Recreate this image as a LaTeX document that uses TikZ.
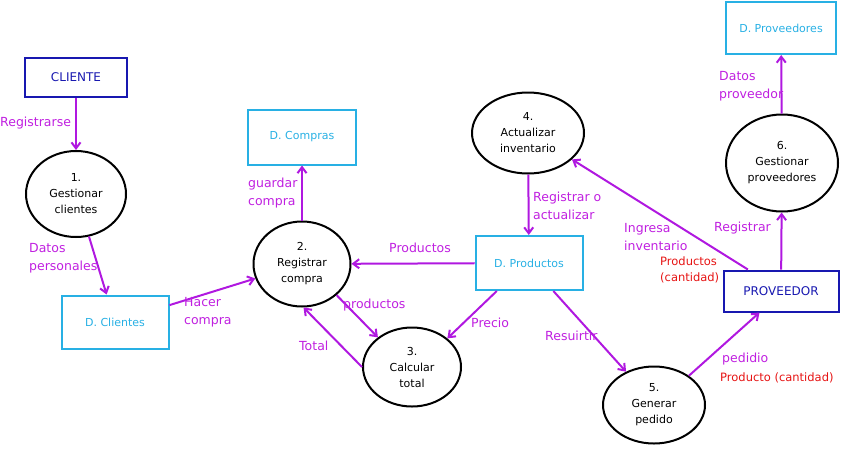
\documentclass[tikz,border=0pt]{standalone}
\usepackage{fontspec}
\setmainfont{DejaVu Sans}
\usetikzlibrary{shapes.geometric,arrows.meta}
\definecolor{colflujo}{RGB}{176,24,224}
\definecolor{coletiq}{RGB}{192,32,224}
\definecolor{colalmacen}{RGB}{40,176,228}
\definecolor{colentidad}{RGB}{24,24,176}
\definecolor{colrojo}{RGB}{230,20,20}
\tikzset{
  proceso/.style={ellipse,draw=black,line width=2pt,inner sep=0pt,align=center,
    font=\fontsize{11}{16}\selectfont},
  dstore/.style={rectangle,draw=colalmacen,line width=2pt,text=colalmacen,
    font=\fontsize{11}{14}\selectfont},
  entidad/.style={rectangle,draw=colentidad,line width=2pt,text=colentidad,
    font=\fontsize{12}{14}\selectfont},
  flujo/.style={draw=colflujo,line width=2pt,-{Straight Barb[length=6pt,width=9pt]}},
  etiqueta/.style={anchor=west,inner sep=0pt,align=left,text=coletiq,
    font=\fontsize{12.5}{18}\selectfont},
  cantidad/.style={anchor=west,inner sep=0pt,align=left,text=colrojo,
    font=\fontsize{11.5}{16}\selectfont}
}
\begin{document}
\begin{tikzpicture}[x=1pt,y=-1pt]
    \useasboundingbox (0,0) rectangle (842,448);

    \node[entidad,minimum width=102pt,minimum height=39pt] (cliente) at (76,77.5) {CLIENTE};
    \node[entidad,minimum width=115pt,minimum height=41pt] (prov) at (781,291) {PROVEEDOR};

    \node[dstore,minimum width=107pt,minimum height=53pt] (dclientes) at (115,322) {D. Clientes};
    \node[dstore,minimum width=108pt,minimum height=55pt] (dcompras) at (302,137) {D. Compras};
    \node[dstore,minimum width=107pt,minimum height=54pt] (dprod) at (529,263) {D. Productos};
    \node[dstore,minimum width=110pt,minimum height=52pt] (dprov) at (781,28) {D. Proveedores};

    \node[proceso,minimum width=100pt,minimum height=86pt] (p1) at (76,194) {1.\\Gestionar\\clientes};
    \node[proceso,minimum width=97pt,minimum height=85pt] (p2) at (302,264) {2.\\Registrar\\compra};
    \node[proceso,minimum width=98pt,minimum height=79pt] (p3) at (412,367) {3.\\Calcular\\total};
    \node[proceso,minimum width=112pt,minimum height=81pt] (p4) at (528,133) {4.\\Actualizar\\inventario};
    \node[proceso,minimum width=102pt,minimum height=77pt] (p5) at (654,405) {5.\\Generar\\pedido};
    \node[proceso,minimum width=112pt,minimum height=97pt] (p6) at (782,163) {6.\\Gestionar\\proveedores};

    \draw[flujo] (cliente) -- (p1);
    \draw[flujo] (p1) -- (dclientes);
    \draw[flujo] (dclientes) -- (p2);
    \draw[flujo] (p2) -- (dcompras);
    \draw[flujo] (dprod) -- (p2);
    \draw[flujo] (p2.-42) -- (p3.139);
    \draw[flujo] (p3.180) -- (p2.-88);
    \draw[flujo] (dprod.-139) -- (p3.39);
    \draw[flujo] (p4) -- (dprod);
    \draw[flujo] (dprod.-49) -- (p5.130);
    \draw[flujo] (p5.40) -- (prov.-135);
    \draw[flujo] (prov.147.5) -- (p4.-31);
    \draw[flujo] (prov) -- (p6);
    \draw[flujo] (p6) -- (dprov);

    \node[etiqueta] (lreg) at (0,123) {Registrarse};
    \node[etiqueta] (ldatos) at (29,258) {Datos\\personales};
    \node[etiqueta] (lhacer) at (184,312) {Hacer\\compra};
    \node[etiqueta] (lguardar) at (248,193) {guardar\\compra};
    \node[etiqueta] (lprod) at (389,248) {Productos};
    \node[etiqueta] (lprod2) at (343,305) {productos};
    \node[etiqueta] (ltotal) at (299,346) {Total};
    \node[etiqueta] (lprecio) at (471,323) {Precio};
    \node[etiqueta] (lactual) at (533,206) {Registrar o\\actualizar};
    \node[etiqueta] (lingresa) at (624,237) {Ingresa\\inventario};
    \node[cantidad] (lcant) at (660,270) {Productos\\(cantidad)};
    \node[etiqueta] (lregprov) at (714,228) {Registrar};
    \node[etiqueta] (ldatprov) at (719,86) {Datos\\proveedor};
    \node[etiqueta] (lresurtir) at (545,336) {Resuirtir};
    \node[etiqueta] (lpedido) at (722,359) {pedidio};
    \node[cantidad] (lcant2) at (720,378) {Producto (cantidad)};

\end{tikzpicture}
\end{document}
